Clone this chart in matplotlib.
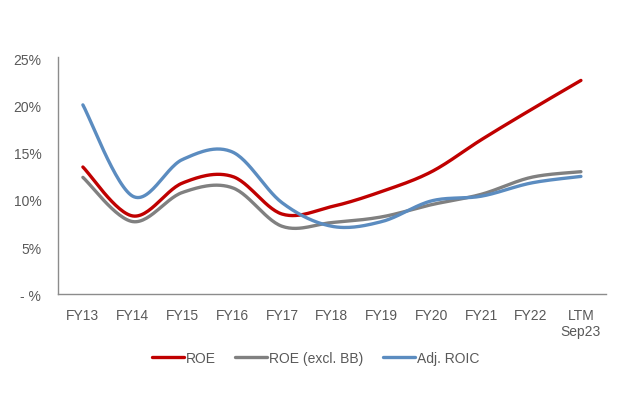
import numpy as np
import matplotlib.pyplot as plt

plt.rcParams['font.family'] = ['Liberation Sans', 'DejaVu Sans']

# data (%)
categories = ['FY13', 'FY14', 'FY15', 'FY16', 'FY17', 'FY18', 'FY19',
              'FY20', 'FY21', 'FY22', 'LTM\nSep23']
roe = [13.5, 8.3, 11.8, 12.5, 8.5, 9.3, 10.9, 13.0, 16.4, 19.6, 22.7]
roe_excl_bb = [12.4, 7.7, 10.8, 11.3, 7.2, 7.6, 8.2, 9.5, 10.6, 12.4, 13.0]
adj_roic = [20.1, 10.4, 14.3, 15.1, 9.7, 7.2, 7.7, 9.9, 10.4, 11.8, 12.5]


def smooth(x, y, n=30):
    # excel style smoothed line (catmull-rom bezier through the points)
    x = np.asarray(x, float)
    y = np.asarray(y, float)
    px = np.concatenate([[x[0]], x, [x[-1]]])
    py = np.concatenate([[y[0]], y, [y[-1]]])
    xs, ys = [], []
    t = np.linspace(0, 1, n)
    for i in range(1, len(px) - 2):
        p0, p1, p2, p3 = [np.array([px[j], py[j]]) for j in (i - 1, i, i + 1, i + 2)]
        c1 = p1 + (p2 - p0) / 6
        c2 = p2 - (p3 - p1) / 6
        pts = ((1 - t) ** 3)[:, None] * p1 + (3 * (1 - t) ** 2 * t)[:, None] * c1 \
            + (3 * (1 - t) * t ** 2)[:, None] * c2 + (t ** 3)[:, None] * p2
        xs.extend(pts[:, 0])
        ys.extend(pts[:, 1])
    return xs, ys


fig = plt.figure(figsize=(6.4, 4.02), dpi=100)
ax = fig.add_axes([0.0906, 0.266, 0.856, 0.59])

x = np.arange(len(categories))
for vals, col, lab in [(roe, '#C00000', 'ROE'),
                       (roe_excl_bb, '#808080', 'ROE (excl. BB)'),
                       (adj_roic, '#5B8CC0', 'Adj. ROIC')]:
    sx, sy = smooth(x, vals)
    ax.plot(sx, sy, color=col, lw=2.4, label=lab, solid_capstyle='round')

ax.set_xlim(-0.5, len(categories) - 0.5)
ax.set_ylim(0, 25.2)
ax.set_yticks([0, 5, 10, 15, 20, 25])
ax.set_yticklabels(['- %', '5%', '10%', '15%', '20%', '25%'])
ax.set_xticks(x)
ax.set_xticklabels(categories)
ax.tick_params(length=0, labelsize=10, colors='#595959', pad=10)
ax.tick_params(axis='y', pad=12)
for s in ['top', 'right']:
    ax.spines[s].set_visible(False)
for s in ['left', 'bottom']:
    ax.spines[s].set_color('#8C8C8C')
    ax.spines[s].set_linewidth(1)

leg = ax.legend(loc='center', bbox_to_anchor=(0.47, -0.27), ncol=3, frameon=False,
                fontsize=10, handlelength=2.3, handletextpad=0.15, columnspacing=1.4)
for t in leg.get_texts():
    t.set_color('#595959')

fig.savefig('out.png', dpi=100)
